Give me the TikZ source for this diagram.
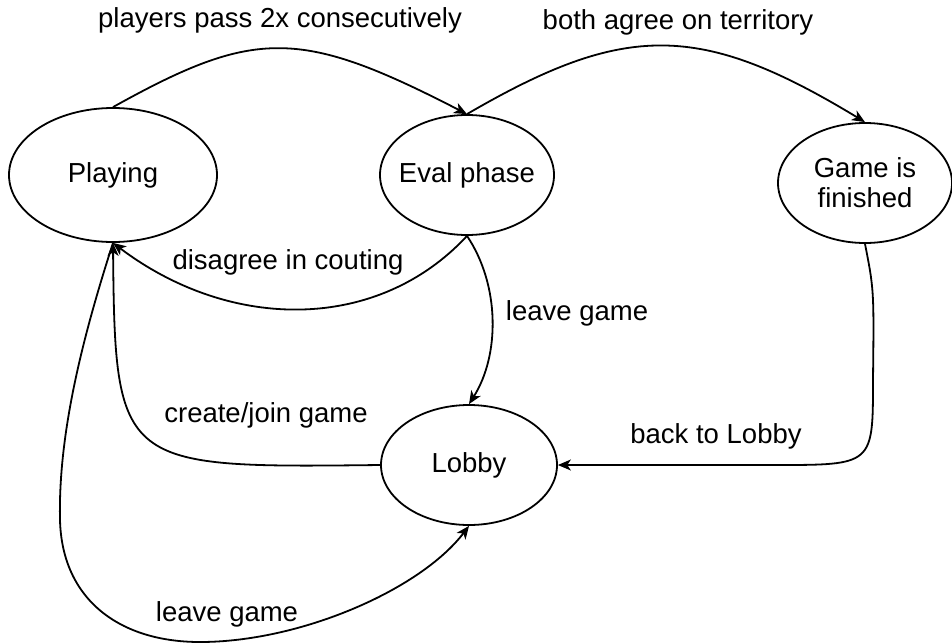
\documentclass[tikz,border=0pt]{standalone}
\usepackage{fontspec}
\setmainfont{Liberation Sans}
\usetikzlibrary{shapes.geometric,arrows.meta}
\begin{document}
\begin{tikzpicture}[x=0.5pt,y=-0.5pt,
  state/.style={ellipse,draw,line width=0.9pt,inner sep=0pt},
  txt/.style={inner sep=0pt,align=center,font=\fontsize{13.75}{15}\selectfont},
  edge/.style={draw,line width=0.9pt,-{Stealth[length=6.5pt,width=5.5pt,inset=1.8pt]}}]
\useasboundingbox (0,0) rectangle (952,643);
% states
\node[state,minimum width=104pt,minimum height=67pt] (play) at (113,175) {};
\node[state,minimum width=87pt,minimum height=60pt] (eval) at (467,175) {};
\node[state,minimum width=87pt,minimum height=60pt] (game) at (865,183) {};
\node[state,minimum width=88pt,minimum height=60pt] (lobby) at (469,465) {};
\node[txt] (tplay) at (play.center) {Playing};
\node[txt] (teval) at (eval.center) {Eval phase};
\node[txt] (tgame) at (game.center) {Game is\\finished};
\node[txt] (tlobby) at (lobby.center) {Lobby};
% connectors
\draw[edge] (play.north) .. controls (255,28) and (300,28) .. (eval.north);
\draw[edge] (eval.north) .. controls (625,22) and (700,22) .. (game.north);
\draw[edge] (eval.south) .. controls (378,332) and (231,332) .. (play.south);
\draw[edge] (eval.south) .. controls (500,285) and (500,355) .. (lobby.north);
\draw[edge] (lobby.west) .. controls (120,468) and (115,468) .. (play.south);
\draw[edge] (game.south) .. controls (874,290) .. (873,380) .. controls (873,465) .. (775,465) -- (lobby.east);
\draw[edge] (play.south) .. controls (85,330) and (58,430) .. (60,520) .. controls (62,600) and (120,642) .. (200,642) .. controls (300,642) and (420,590) .. (lobby.south);
% labels
\node[txt] (l1) at (280,20) {players pass 2x consecutively};
\node[txt] (l2) at (678,22) {both agree on territory};
\node[txt] (l3) at (288,262) {disagree in couting};
\node[txt] (l4) at (577,313) {leave game};
\node[txt] (l5) at (266,415) {create/join game};
\node[txt] (l6) at (716,436) {back to Lobby};
\node[txt] (l7) at (227,614) {leave game};
\end{tikzpicture}
\end{document}
